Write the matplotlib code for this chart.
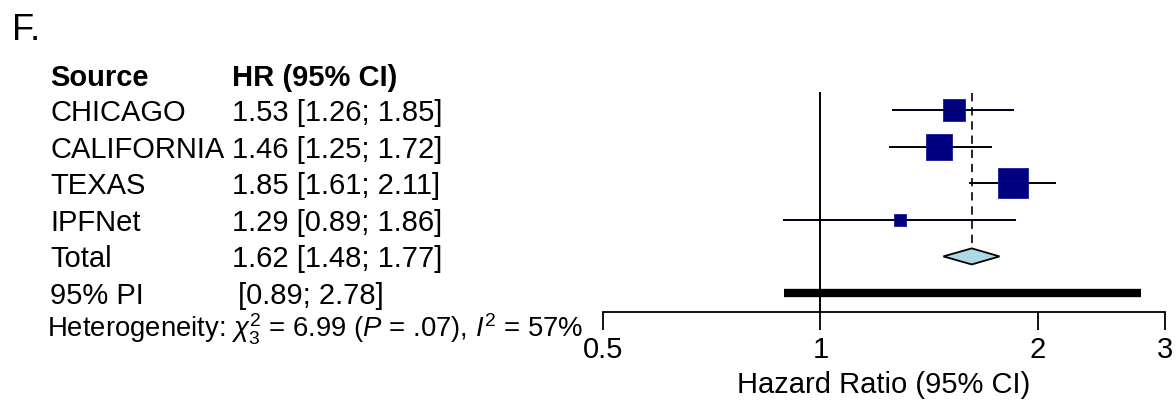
import numpy as np
import matplotlib.pyplot as plt
import matplotlib.transforms as mtransforms

plt.rcParams['font.family'] = ['Liberation Sans', 'DejaVu Sans']
plt.rcParams['mathtext.fontset'] = 'custom'
plt.rcParams['mathtext.rm'] = 'Liberation Sans'
plt.rcParams['mathtext.it'] = 'Liberation Sans:italic'

# study estimates
sources = ['CHICAGO', 'CALIFORNIA', 'TEXAS', 'IPFNet']
hr = [1.53, 1.46, 1.85, 1.29]
lo = [1.26, 1.25, 1.61, 0.89]
hi = [1.85, 1.72, 2.11, 1.86]

# pooled estimate and prediction interval
total_hr, total_lo, total_hi = 1.62, 1.48, 1.77
pi_lo, pi_hi = 0.89, 2.78
het_text = r'Heterogeneity: $\chi^2_3$ = 6.99 ($P$ = .07), $I^2$ = 57%'

xticks = [0.5, 1, 2, 3]

W, H = 1176, 420
fig = plt.figure(figsize=(W / 100, H / 100), dpi=100)
ax = fig.add_axes([603 / W, (H - 312) / H, (1165 - 603) / W, (312 - 60) / H])
ax.set_xscale('log')
ax.set_xlim(0.5, 3)
row_px = 36.6
ax.set_ylim(1 + (312 - 110) / row_px, 1 + (60 - 110) / row_px)

# inverse-variance weights -> box size
se = (np.log(hi) - np.log(lo)) / (2 * 1.96)
w = 1 / se ** 2
side_pt = 2.1 * np.sqrt(w) * 72 / 100

rows = np.arange(1, len(sources) + 1)
ax.plot([1, 1], [0.535, 6.52], color='black', lw=1.4, zorder=1)
ax.plot([total_hr, total_hr], [0.535, 5 - 0.22], color='black', lw=1.2,
        ls=(0, (5, 3.5)), zorder=1)

for r, h, l, u, s in zip(rows, hr, lo, hi, side_pt):
    ax.plot([l, u], [r, r], color='black', lw=1.4, zorder=2)
    ax.scatter([h], [r], marker='s', s=s ** 2, color='#000080',
               edgecolors='#1a1a9a', linewidths=0.6, zorder=3)
    ax.plot([l, u], [r, r], color='#000033', lw=0.7, alpha=0.6, zorder=4)

# pooled diamond
ax.fill([total_lo, total_hr, total_hi, total_hr], [5, 5 - 0.22, 5, 5 + 0.22],
        facecolor='#add8e6', edgecolor='black', lw=1.3, zorder=3)

# prediction interval bar
ax.plot([pi_lo, pi_hi], [6, 6], color='black', lw=6, solid_capstyle='butt', zorder=3)

for sp in ['top', 'right', 'left']:
    ax.spines[sp].set_visible(False)
ax.spines['bottom'].set_linewidth(1.3)
ax.set_yticks([])
ax.set_xticks(xticks)
ax.set_xticklabels(['0.5', '1', '2', '3'])
ax.xaxis.set_minor_locator(plt.NullLocator())
ax.tick_params(axis='x', direction='out', length=13, width=1.3, pad=4, labelsize=21)
ax.set_xlabel('Hazard Ratio (95% CI)', fontsize=21, labelpad=5)

# left-hand text table
tr = mtransforms.blended_transform_factory(fig.transFigure, ax.transData)
fs = 21
dy = 0.08
ax.text(50 / W, 0.04 + dy, 'Source', transform=tr, fontsize=fs, fontweight='bold', va='center')
ax.text(232 / W, 0.04 + dy, 'HR (95% CI)', transform=tr, fontsize=fs, fontweight='bold', va='center')
for r, name, h, l, u in zip(rows, sources, hr, lo, hi):
    ax.text(50 / W, r + dy, name, transform=tr, fontsize=fs, va='center')
    ax.text(232 / W, r + dy, f'{h:.2f} [{l:.2f}; {u:.2f}]', transform=tr, fontsize=fs, va='center')
ax.text(50 / W, 5 + dy, 'Total', transform=tr, fontsize=fs, va='center')
ax.text(232 / W, 5 + dy, f'{total_hr:.2f} [{total_lo:.2f}; {total_hi:.2f}]', transform=tr,
        fontsize=fs, va='center')
ax.text(50 / W, 6 + dy, '95% PI', transform=tr, fontsize=fs, va='center')
ax.text(238 / W, 6 + dy, f'[{pi_lo:.2f}; {pi_hi:.2f}]', transform=tr, fontsize=fs, va='center')
ax.text(47 / W, 7.0, het_text, transform=tr, fontsize=19.8, va='center')

fig.text(12 / W, 1 - 30 / H, 'F.', fontsize=26, va='center')

fig.savefig('out.png', dpi=100)
